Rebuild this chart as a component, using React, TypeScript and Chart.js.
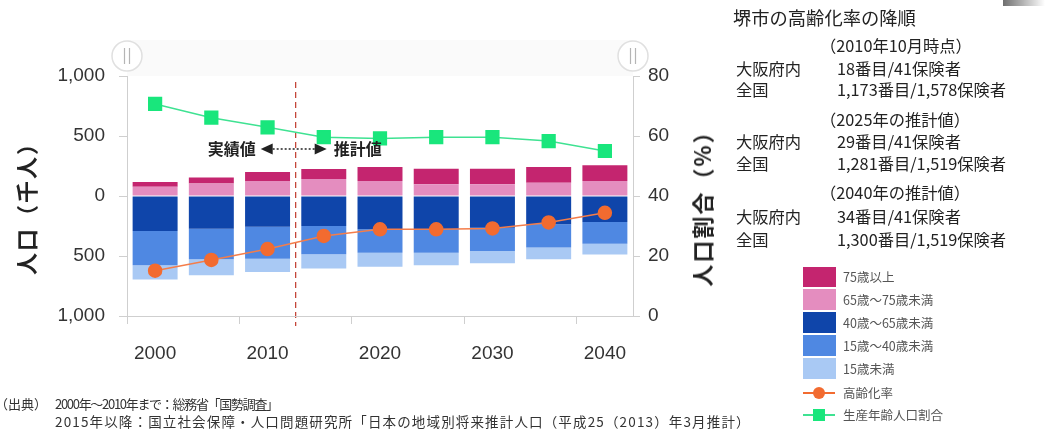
import React, { useEffect, useRef } from 'react';
import { Chart, registerables } from 'chart.js';

Chart.register(...registerables);

// ---------------- data ----------------
const years = ['2000', '2005', '2010', '2015', '2020', '2025', '2030', '2035', '2040'];
// population (thousand people); younger groups drawn below zero
const age75Plus = [38, 50, 75, 82, 117, 131, 131, 131, 131];
const age65to74 = [78, 105, 125, 142, 125, 97, 97, 111, 125];
const age40to64 = [-292, -272, -256, -250, -278, -278, -264, -236, -217];
const age15to39 = [-286, -256, -267, -236, -194, -194, -194, -194, -181];
const ageUnder15 = [-117, -133, -111, -119, -117, -106, -103, -97, -89];
// ratios (%)
const agingRate = [15.1, 18.7, 22.3, 26.7, 28.9, 28.9, 29.2, 31.2, 34.4];
const workingAgeRatio = [70.7, 66.1, 62.9, 59.6, 59.2, 59.6, 59.6, 58.3, 55.0];

const seriesNames = ['75歳以上', '65歳～75歳未満', '40歳～65歳未満', '15歳～40歳未満', '15歳未満', '高齢化率', '生産年齢人口割合'];
const infoRows = [
  ['', '（2010年10月時点）'],
  ['大阪府内', '18番目/41保険者'],
  ['全国', '1,173番目/1,578保険者'],
  ['', '（2025年の推計値）'],
  ['大阪府内', '29番目/41保険者'],
  ['全国', '1,281番目/1,519保険者'],
  ['', '（2040年の推計値）'],
  ['大阪府内', '34番目/41保険者'],
  ['全国', '1,300番目/1,519保険者'],
];

const C75 = '#c4256f';
const C65 = '#e48dbf';
const C40 = '#0f45aa';
const C15 = '#4f88e2';
const C0 = '#a9c9f4';
const CORANGE = '#f26b30';
const CGREEN = '#19e67c';

const JP = "'Noto Sans CJK JP', 'Noto Sans', sans-serif";
const NUM = "'Liberation Sans', Arial, sans-serif";

const overlayPlugin = {
  id: 'overlay',
  beforeDraw(chart: any) {
    const { ctx, chartArea } = chart;
    ctx.save();
    ctx.fillStyle = '#fafafa';
    ctx.fillRect(chartArea.left, 40, chartArea.right - chartArea.left, chartArea.top - 40);
    ctx.restore();
  },
  beforeDatasetsDraw(chart: any) {
    const { ctx, chartArea } = chart;
    const xs = chart.scales.x;
    const xd = (xs.getPixelForValue(2) + xs.getPixelForValue(3)) / 2;
    ctx.save();
    ctx.strokeStyle = '#c0392b';
    ctx.lineWidth = 1.2;
    ctx.setLineDash([6, 4]);
    ctx.beginPath();
    ctx.moveTo(xd, chartArea.top + 6);
    ctx.lineTo(xd, chartArea.bottom + 10);
    ctx.stroke();
    ctx.restore();
  },
  afterDraw(chart: any) {
    const { ctx, chartArea } = chart;
    const xs = chart.scales.x;
    const xd = (xs.getPixelForValue(2) + xs.getPixelForValue(3)) / 2;
    ctx.save();
    // x axis line extension
    ctx.strokeStyle = '#cfcfcf';
    ctx.lineWidth = 1;
    ctx.beginPath();
    ctx.moveTo(chartArea.left - 7, chartArea.bottom + 0.5);
    ctx.lineTo(chartArea.right + 7, chartArea.bottom + 0.5);
    ctx.stroke();
    // scroll handles
    [chartArea.left, chartArea.right].forEach((cx: number) => {
      ctx.beginPath();
      ctx.arc(cx, 56, 15, 0, Math.PI * 2);
      ctx.fillStyle = '#ffffff';
      ctx.fill();
      ctx.strokeStyle = '#e0e0e0';
      ctx.lineWidth = 1.5;
      ctx.stroke();
      ctx.strokeStyle = '#b5b5b5';
      ctx.lineWidth = 1.2;
      ctx.beginPath();
      ctx.moveTo(cx - 2.5, 48); ctx.lineTo(cx - 2.5, 64);
      ctx.moveTo(cx + 2.5, 48); ctx.lineTo(cx + 2.5, 64);
      ctx.stroke();
    });
    // annotation
    const ay = 149;
    ctx.fillStyle = '#222';
    ctx.font = `bold 16px ${JP}`;
    ctx.textBaseline = 'middle';
    ctx.textAlign = 'right';
    ctx.fillText('実績値', xd - 40, ay);
    ctx.textAlign = 'left';
    ctx.fillText('推計値', xd + 38, ay);
    ctx.strokeStyle = '#222';
    ctx.lineWidth = 1.6;
    ctx.setLineDash([2, 2]);
    ctx.beginPath();
    ctx.moveTo(xd - 23, ay);
    ctx.lineTo(xd + 20, ay);
    ctx.stroke();
    ctx.setLineDash([]);
    ctx.beginPath();
    ctx.moveTo(xd - 35, ay);
    ctx.lineTo(xd - 23, ay - 5.5);
    ctx.lineTo(xd - 23, ay + 5.5);
    ctx.closePath();
    ctx.fill();
    ctx.beginPath();
    ctx.moveTo(xd + 31, ay);
    ctx.lineTo(xd + 19, ay - 5.5);
    ctx.lineTo(xd + 19, ay + 5.5);
    ctx.closePath();
    ctx.fill();
    ctx.restore();
  },
};

function T(props: { x: number; y: number; size: number; children: any; color?: string; weight?: any; ls?: number }) {
  const h = Math.round(props.size * 1.4);
  return (
    <div
      style={{
        position: 'absolute',
        left: props.x,
        top: props.y - h / 2,
        height: h,
        lineHeight: h + 'px',
        fontSize: props.size,
        fontFamily: JP,
        color: props.color || '#222',
        fontWeight: props.weight || 'normal',
        whiteSpace: 'nowrap',
        letterSpacing: props.ls ? props.ls + 'px' : undefined,
      }}
    >
      {props.children}
    </div>
  );
}

export default function App() {
  const ref = useRef<HTMLCanvasElement>(null);

  useEffect(() => {
    if (!ref.current) return;
    const tickFont = { family: NUM, size: 19 };
    const chart = new Chart(ref.current, {
      type: 'bar',
      data: {
        labels: years,
        datasets: [
          {
            type: 'line',
            label: seriesNames[5],
            data: agingRate,
            yAxisID: 'y1',
            borderColor: '#f47d4a',
            borderWidth: 1.5,
            backgroundColor: CORANGE,
            pointBackgroundColor: CORANGE,
            pointBorderColor: CORANGE,
            pointRadius: 6.5,
            pointStyle: 'circle',
            order: 0,
          } as any,
          {
            type: 'line',
            label: seriesNames[6],
            data: workingAgeRatio,
            yAxisID: 'y1',
            borderColor: '#3fe292',
            borderWidth: 1.5,
            backgroundColor: CGREEN,
            pointBackgroundColor: CGREEN,
            pointBorderColor: CGREEN,
            pointRadius: 9,
            pointStyle: 'rect',
            order: 0,
          } as any,
          { label: seriesNames[1], data: age65to74, backgroundColor: C65, yAxisID: 'y', order: 1 },
          { label: seriesNames[0], data: age75Plus, backgroundColor: C75, yAxisID: 'y', order: 1 },
          { label: seriesNames[2], data: age40to64, backgroundColor: C40, yAxisID: 'y', order: 1 },
          { label: seriesNames[3], data: age15to39, backgroundColor: C15, yAxisID: 'y', order: 1 },
          { label: seriesNames[4], data: ageUnder15, backgroundColor: C0, yAxisID: 'y', order: 1 },
        ],
      },
      options: {
        animation: false,
        responsive: false,
        layout: { padding: { left: 57, right: 352, top: 76, bottom: 54 } },
        plugins: { legend: { display: false }, tooltip: { enabled: false } },
        datasets: { bar: { barPercentage: 0.8, categoryPercentage: 1 } },
        scales: {
          x: {
            stacked: true,
            offset: true,
            grid: {
              drawOnChartArea: false,
              tickLength: 8,
              color: '#cfcfcf',
              tickColor: (c: any) => (c.index % 2 === 0 ? '#cfcfcf' : 'rgba(0,0,0,0)'),
            },
            border: { color: '#cfcfcf' },
            ticks: {
              autoSkip: false,
              maxRotation: 0,
              padding: 18,
              color: '#333',
              font: tickFont,
              callback: (_v: any, i: number) => (i % 2 === 0 ? years[i] : ''),
            },
            afterFit: (s: any) => {
              s.height = 60;
            },
          },
          y: {
            stacked: true,
            min: -1000,
            max: 1000,
            grid: { drawOnChartArea: false, tickLength: 8, color: '#cfcfcf' },
            border: { color: '#cfcfcf' },
            ticks: {
              stepSize: 500,
              padding: 14,
              color: '#333',
              font: tickFont,
              callback: (v: any) => Math.abs(Number(v)).toLocaleString('en-US'),
            },
            afterFit: (s: any) => {
              s.width = 70;
            },
          },
          y1: {
            position: 'right',
            min: 0,
            max: 80,
            grid: { drawOnChartArea: false, tickLength: 7, color: '#cfcfcf' },
            border: { color: '#cfcfcf' },
            ticks: { stepSize: 20, padding: 8, color: '#333', font: tickFont },
            afterFit: (s: any) => {
              s.width = 60;
            },
          },
        },
      } as any,
      plugins: [overlayPlugin],
    });
    return () => chart.destroy();
  }, []);

  const infoY = [45, 68, 89, 119, 141, 163, 192, 216, 239];
  const boxes = [
    { c: C75, y: 267, h: 20, name: seriesNames[0] },
    { c: C65, y: 289, h: 21, name: seriesNames[1] },
    { c: C40, y: 312, h: 21, name: seriesNames[2] },
    { c: C15, y: 335, h: 21, name: seriesNames[3] },
    { c: C0, y: 358, h: 21, name: seriesNames[4] },
  ];

  return (
    <div style={{ position: 'absolute', left: 0, top: 0, width: 1045, height: 430, background: '#fff', overflow: 'hidden' }}>
      <canvas ref={ref} width={1045} height={430} style={{ position: 'absolute', left: 0, top: 0, width: 1045, height: 430 }} />
      {/* axis titles */}
      <div style={{ position: 'absolute', left: 25, top: 203, transform: 'translate(-50%,-50%) rotate(-90deg)', fontFamily: JP, fontSize: 22, fontWeight: 'bold', color: '#222', whiteSpace: 'nowrap', letterSpacing: '2px' }}>
        人口（千人）
      </div>
      <div style={{ position: 'absolute', left: 701, top: 203, transform: 'translate(-50%,-50%) rotate(-90deg)', fontFamily: JP, fontSize: 22, fontWeight: 'bold', color: '#222', whiteSpace: 'nowrap', letterSpacing: '2px' }}>
        人口割合（%）
      </div>
      {/* info block */}
      <T x={733} y={17} size={18.3}>堺市の高齢化率の降順</T>
      {infoRows.map((r, i) =>
        r[0] === '' ? (
          <T key={i} x={820} y={infoY[i]} size={16.3}>{r[1]}</T>
        ) : (
          <React.Fragment key={i}>
            <T x={736} y={infoY[i]} size={16.3}>{r[0]}</T>
            <T x={837} y={infoY[i]} size={16.3}>{r[1]}</T>
          </React.Fragment>
        )
      )}
      {/* legend */}
      {boxes.map((b, i) => (
        <React.Fragment key={i}>
          <div style={{ position: 'absolute', left: 803, top: b.y, width: 33, height: b.h, background: b.c }} />
          <T x={843} y={b.y + b.h / 2} size={12.5} color="#555">{b.name}</T>
        </React.Fragment>
      ))}
      <div style={{ position: 'absolute', left: 803, top: 392, width: 32, height: 2, background: CORANGE }} />
      <div style={{ position: 'absolute', left: 813, top: 387, width: 12, height: 12, borderRadius: 6, background: CORANGE }} />
      <T x={843} y={393} size={12.5} color="#555">{seriesNames[5]}</T>
      <div style={{ position: 'absolute', left: 803, top: 414, width: 32, height: 2, background: '#3fe292' }} />
      <div style={{ position: 'absolute', left: 813, top: 409, width: 12, height: 12, background: CGREEN }} />
      <T x={843} y={415} size={12.5} color="#555">{seriesNames[6]}</T>
      {/* source */}
      <T x={-5} y={404} size={13} color="#333">（出典）</T>
      <T x={55} y={404} size={13} color="#333" ls={-1.3}>2000年～2010年まで：総務省「国勢調査」</T>
      <T x={55} y={421} size={13.5} color="#333" ls={1.15}>2015年以降：国立社会保障・人口問題研究所「日本の地域別将来推計人口（平成25（2013）年3月推計）</T>
      {/* top-right decoration */}
      <div style={{ position: 'absolute', left: 1003, top: 0, width: 42, height: 6, background: 'linear-gradient(to right, #6f6f6f, rgba(160,160,160,0))' }} />
    </div>
  );
}
